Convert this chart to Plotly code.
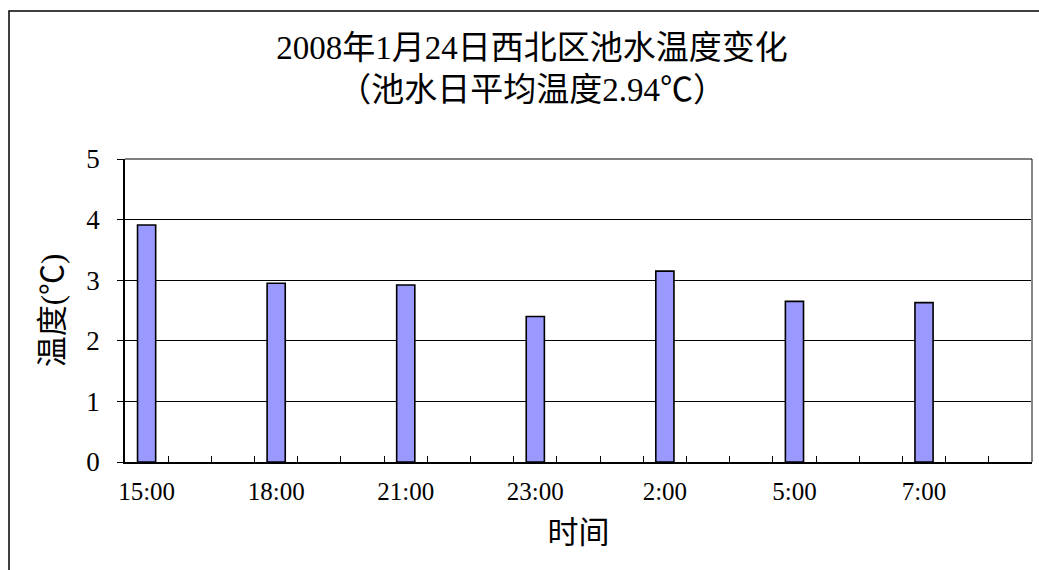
import plotly.graph_objects as go

# ---- data ----
times = ["15:00", "18:00", "21:00", "23:00", "2:00", "5:00", "7:00"]
temps = [3.91, 2.95, 2.92, 2.40, 3.15, 2.65, 2.63]
slots_per_label = 3          # the original axis has 21 category slots, data every 3rd
n_slots = 21
y_ticks = [0, 1, 2, 3, 4, 5]

title_text = "2008年1月24日西北区池水温度变化<br>（池水日平均温度2.94℃）"
x_title = "时间"
y_title = "温度(℃)"

# ---- layout geometry ----
W, H = 1039, 570
ML, MR, MT, MB = 125, 7, 159, 108
PW, PH = W - ML - MR, H - MT - MB

FONT = "Liberation Serif, Noto Sans CJK SC, serif"

xpos = [i * slots_per_label for i in range(len(times))]

fig = go.Figure(
    go.Bar(
        x=xpos,
        y=temps,
        width=0.42,
        marker=dict(color="#9999FF", line=dict(color="#000000", width=1.6)),
        hoverinfo="x+y",
    )
)

fig.update_layout(
    width=W,
    height=H,
    margin=dict(l=ML, r=MR, t=MT, b=MB, autoexpand=False),
    paper_bgcolor="white",
    plot_bgcolor="white",
    showlegend=False,
    font=dict(family=FONT, color="black"),
    title=dict(
        text=title_text,
        x=532 / W,
        xanchor="center",
        xref="container",
        y=1 - 58.5 / H,
        yanchor="middle",
        yref="container",
        font=dict(size=33, family=FONT, color="black"),
    ),
    xaxis=dict(
        range=[-0.5, n_slots - 0.5],
        tickmode="array",
        tickvals=xpos,
        ticktext=times,
        ticks="",
        showgrid=False,
        zeroline=False,
        showline=True,
        linecolor="black",
        linewidth=1.5,
        tickfont=dict(size=25, family=FONT),
        ticklabelstandoff=6,
        minor=dict(
            tickmode="array",
            tickvals=[k + 0.5 for k in range(n_slots - 1)],
            ticks="inside",
            ticklen=6,
            tickwidth=1.3,
            tickcolor="black",
            showgrid=False,
        ),
        title=dict(text=x_title, font=dict(size=31, family=FONT), standoff=18),
        automargin=False,
    ),
    yaxis=dict(
        range=[0, 5],
        tickmode="array",
        tickvals=y_ticks,
        ticks="outside",
        ticklen=6,
        tickcolor="black",
        tickwidth=1.2,
        showgrid=True,
        gridcolor="black",
        gridwidth=1.2,
        zeroline=False,
        showline=True,
        linecolor="black",
        linewidth=1.5,
        tickfont=dict(size=27, family=FONT),
        ticklabelstandoff=12,
        title=dict(text=y_title, font=dict(size=31, family=FONT), standoff=13),
        automargin=False,
    ),
    shapes=[
        # right plot border (gray)
        dict(type="line", xref="paper", yref="paper", x0=1, x1=1, y0=0, y1=1,
             line=dict(color="#888888", width=2)),
        # top plot border
        dict(type="line", xref="paper", yref="paper", x0=0, x1=1, y0=1, y1=1,
             line=dict(color="black", width=1.2)),
        # outer chart border
        dict(type="rect", xref="paper", yref="paper",
             x0=(9 - ML) / PW, x1=(W + 20 - ML) / PW,
             y0=(MT + PH - (H + 20)) / PH, y1=(MT + PH - 11) / PH,
             line=dict(color="black", width=1.5), fillcolor="rgba(0,0,0,0)",
             layer="below"),
    ],
)

fig.write_html(
    "out.html",
    config={"displayModeBar": False},
    post_script="document.body.style.margin='0';document.body.style.overflow='hidden';",
)
